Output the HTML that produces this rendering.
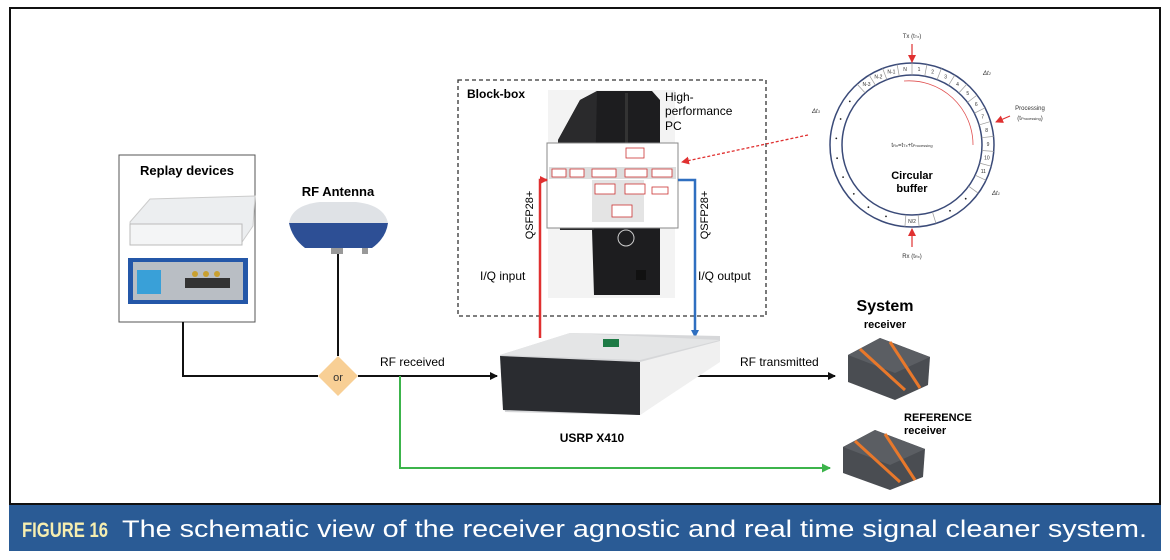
<!DOCTYPE html>
<html><head><meta charset="utf-8"><style>
html,body{margin:0;padding:0;background:#fff;}
svg{display:block;font-family:"Liberation Sans",sans-serif;}
</style></head><body>
<svg width="1170" height="560" viewBox="0 0 1170 560" xmlns="http://www.w3.org/2000/svg">
<defs>
<marker id="ab" markerWidth="8" markerHeight="8" refX="7" refY="4" orient="auto" markerUnits="userSpaceOnUse"><path d="M0,0 L8,4 L0,8z" fill="#111"/></marker>
<marker id="ag" markerWidth="9" markerHeight="9" refX="8" refY="4.5" orient="auto" markerUnits="userSpaceOnUse"><path d="M0,0 L9,4.5 L0,9z" fill="#3cb44b"/></marker>
<marker id="ar" markerWidth="8" markerHeight="8" refX="7" refY="4" orient="auto" markerUnits="userSpaceOnUse"><path d="M0,0 L8,4 L0,8z" fill="#e03030"/></marker>
<marker id="abl" markerWidth="8" markerHeight="8" refX="7" refY="4" orient="auto" markerUnits="userSpaceOnUse"><path d="M0,0 L8,4 L0,8z" fill="#2f6fc0"/></marker>
</defs>
<rect x="0" y="0" width="1170" height="560" fill="#fff"/>
<rect x="10" y="8" width="1150" height="496" fill="#fff" stroke="#111" stroke-width="2"/>
<!-- caption -->
<rect x="9" y="505" width="1152" height="46" fill="#2a5b95"/>
<text x="22" y="537" font-size="21" font-weight="bold" fill="#f6eeb0" font-family="Liberation Sans Narrow, Liberation Sans, sans-serif" textLength="86" lengthAdjust="spacingAndGlyphs">FIGURE 16</text>
<text x="122" y="537" font-size="24" fill="#fff" textLength="1025" lengthAdjust="spacingAndGlyphs">The schematic view of the receiver agnostic and real time signal cleaner system.</text>

<!-- Replay devices -->
<rect x="119" y="155" width="136" height="167" fill="#fff" stroke="#555" stroke-width="1"/>
<text x="187" y="175" font-size="13" font-weight="bold" text-anchor="middle">Replay devices</text>
<path d="M130,222 L150,199 L255,196 L253,226 L240,245 L132,244z" fill="#eceef0" stroke="#ccc"/>
<rect x="130" y="224" width="112" height="21" fill="#f4f5f6" stroke="#bbb"/>
<rect x="128" y="258" width="120" height="46" fill="#2457a8"/>
<rect x="133" y="262" width="110" height="38" fill="#b9bec4"/>
<rect x="137" y="270" width="24" height="24" fill="#39a0d8"/>
<circle cx="195" cy="274" r="3" fill="#c9a030"/><circle cx="206" cy="274" r="3" fill="#c9a030"/><circle cx="217" cy="274" r="3" fill="#c9a030"/>
<rect x="185" y="278" width="45" height="10" fill="#333"/>

<!-- antenna -->
<text x="338" y="196" font-size="13" font-weight="bold" text-anchor="middle">RF Antenna</text>
<path d="M289,223 Q292,205 320,202 L356,202 Q384,205 388,223z" fill="#dfe2e6"/>
<path d="M289,223 L388,223 Q386,238 372,248 L305,248 Q292,238 289,223z" fill="#2d4f95"/>
<rect x="331" y="248" width="12" height="6" fill="#999"/>
<rect x="362" y="248" width="6" height="6" fill="#999"/>

<!-- lines -->
<polyline points="183,322 183,376 318,376" fill="none" stroke="#111" stroke-width="2"/>
<line x1="338" y1="254" x2="338" y2="356" stroke="#111" stroke-width="2"/>
<line x1="358" y1="376" x2="497" y2="376" stroke="#111" stroke-width="2" marker-end="url(#ab)"/>
<polygon points="338,356 358,376 338,396 318,376" fill="#f8cf95"/>
<text x="338" y="381" font-size="11" text-anchor="middle" fill="#333">or</text>
<text x="380" y="366" font-size="12">RF received</text>
<polyline points="400,376 400,468 830,468" fill="none" stroke="#3cb44b" stroke-width="2" marker-end="url(#ag)"/>
<line x1="680" y1="376" x2="835" y2="376" stroke="#111" stroke-width="2" marker-end="url(#ab)"/>
<text x="740" y="366" font-size="12">RF transmitted</text>

<!-- dashed box -->
<rect x="458" y="80" width="308" height="236" fill="none" stroke="#333" stroke-width="1.3" stroke-dasharray="4,3"/>
<text x="467" y="98" font-size="12" font-weight="bold">Block-box</text>
<!-- PC tower -->
<rect x="548" y="90" width="127" height="208" fill="#f3f3f3"/>
<path d="M597,91 L652,91 L660,100 L660,295 L594,295 L592,230 L560,230 L558,140 L580,100z" fill="#1d1d1f"/>
<path d="M558,140 L580,100 L597,91 L594,230 L560,230z" fill="#2a2a2c"/>
<rect x="625" y="93" width="3" height="130" fill="#333"/>
<ellipse cx="626" cy="238" rx="8" ry="8" fill="none" stroke="#ccc"/>
<rect x="636" y="270" width="10" height="10" fill="#111"/>
<text x="665" y="101" font-size="12">High-</text>
<text x="665" y="115" font-size="12">performance</text>
<text x="665" y="130" font-size="12">PC</text>
<!-- overlay diagram -->
<rect x="547" y="143" width="131" height="85" fill="#fff" stroke="#888"/>
<rect x="549" y="167" width="127" height="12" fill="#ddd"/>
<rect x="592" y="180" width="52" height="42" fill="#e4e4e4"/>
<g fill="#fff" stroke="#c33" stroke-width="0.8">
<rect x="626" y="148" width="18" height="10"/>
<rect x="552" y="169" width="14" height="8"/><rect x="570" y="169" width="14" height="8"/>
<rect x="592" y="169" width="24" height="8"/><rect x="625" y="169" width="22" height="8"/><rect x="652" y="169" width="20" height="8"/>
<rect x="595" y="184" width="20" height="10"/><rect x="625" y="184" width="20" height="10"/><rect x="652" y="187" width="16" height="7"/>
<rect x="612" y="205" width="20" height="12"/>
</g>
<!-- red/blue -->
<polyline points="540,338 540,180 547,180" fill="none" stroke="#e03030" stroke-width="2.5" marker-end="url(#ar)"/>
<polyline points="678,180 695,180 695,337" fill="none" stroke="#2f6fc0" stroke-width="2.5" marker-end="url(#abl)"/>
<text transform="translate(533,215) rotate(-90)" font-size="11" text-anchor="middle">QSFP28+</text>
<text transform="translate(708,215) rotate(-90)" font-size="11" text-anchor="middle">QSFP28+</text>
<text x="480" y="280" font-size="12">I/Q input</text>
<text x="698" y="280" font-size="12">I/Q output</text>
<line x1="808" y1="135" x2="682" y2="162" stroke="#e03030" stroke-width="1.3" stroke-dasharray="3,2" marker-end="url(#ar)"/>

<!-- USRP -->
<path d="M500,355 L570,333 L720,336 L720,360 L640,415 L505,412z" fill="#d6d7d9"/>
<path d="M500,355 L640,360 L720,340 L570,333z" fill="#e4e5e6"/>
<path d="M500,356 L640,362 L640,415 L503,410z" fill="#2a2c30"/>
<path d="M640,362 L720,341 L720,362 L640,415z" fill="#f0f0f0"/>
<rect x="603" y="339" width="16" height="8" fill="#1d7a45"/>
<text x="592" y="442" font-size="12" font-weight="bold" text-anchor="middle">USRP X410</text>

<!-- receivers -->
<text x="885" y="311" font-size="16" font-weight="bold" text-anchor="middle">System</text>
<text x="885" y="328" font-size="11" font-weight="bold" text-anchor="middle">receiver</text>
<path d="M848,355 L880,338 L930,357 L928,385 L895,400 L848,382z" fill="#4a4d52"/>
<path d="M848,355 L880,338 L930,357 L895,373z" fill="#5b5e63"/>
<line x1="860" y1="349" x2="905" y2="390" stroke="#e8782b" stroke-width="3"/>
<line x1="890" y1="342" x2="920" y2="388" stroke="#e8782b" stroke-width="3"/>
<text x="904" y="421" font-size="11" font-weight="bold">REFERENCE</text>
<text x="904" y="434" font-size="11" font-weight="bold">receiver</text>
<path d="M843,447 L875,430 L925,449 L923,477 L890,490 L843,473z" fill="#4a4d52"/>
<path d="M843,447 L875,430 L925,449 L890,465z" fill="#5b5e63"/>
<line x1="855" y1="441" x2="900" y2="482" stroke="#e8782b" stroke-width="3"/>
<line x1="885" y1="434" x2="915" y2="480" stroke="#e8782b" stroke-width="3"/>

<!-- circular buffer -->
<circle cx="912" cy="145" r="82" fill="none" stroke="#3a4a78" stroke-width="1.5"/>
<circle cx="912" cy="145" r="70" fill="none" stroke="#3a4a78" stroke-width="1.5"/>
<g stroke="#999" stroke-width="0.7">
<line x1="912" y1="75" x2="912" y2="63"/><line x1="924.7" y1="76.2" x2="926.9" y2="64.4"/><line x1="937.1" y1="79.6" x2="941.4" y2="68.4"/><line x1="948.5" y1="85.3" x2="954.8" y2="75.1"/><line x1="958.8" y1="93" x2="966.9" y2="84.1"/><line x1="967.5" y1="102.4" x2="977" y2="95.1"/><line x1="974.4" y1="113.2" x2="985.1" y2="107.8"/><line x1="978.6" y1="125.1" x2="990" y2="121.7"/><line x1="981.7" y1="137.7" x2="993.6" y2="136.4"/><line x1="981.8" y1="150.5" x2="993.8" y2="151.4"/><line x1="979.6" y1="163.1" x2="991.2" y2="166.2"/><line x1="975.2" y1="175.2" x2="986" y2="180.3"/><line x1="968.6" y1="186.2" x2="978.3" y2="193.2"/>
<line x1="899.3" y1="76.2" x2="897.1" y2="64.4"/><line x1="886.9" y1="79.6" x2="882.6" y2="68.4"/><line x1="875.5" y1="85.3" x2="869.2" y2="75.1"/><line x1="865.2" y1="93" x2="857.1" y2="84.1"/>
<line x1="918.1" y1="214.7" x2="919.1" y2="226.7"/><line x1="905.9" y1="214.7" x2="904.9" y2="226.7"/><line x1="932.4" y1="211.9" x2="936" y2="223.4"/>
</g>
<g font-size="5" text-anchor="middle" fill="#333">
<text x="919" y="71">1</text><text x="932.6" y="73.5">2</text><text x="945.6" y="78.5">3</text><text x="957.5" y="86">4</text><text x="967.8" y="95">5</text><text x="976.3" y="106">6</text><text x="982.6" y="118.5">7</text><text x="986.6" y="132">8</text><text x="988" y="146">9</text><text x="986.9" y="159.5">10</text><text x="983.3" y="173">11</text>
<text x="905" y="71">N</text><text x="891.4" y="73.5">N-1</text><text x="878.4" y="78.5">N-2</text><text x="866.5" y="86">N-3</text><text x="912" y="223">N/2</text>
</g>
<g fill="#222">
<circle cx="849.8" cy="101.4" r="0.9"/><circle cx="840.6" cy="119" r="0.9"/><circle cx="836.3" cy="138.4" r="0.9"/><circle cx="837.1" cy="158.2" r="0.9"/><circle cx="843.1" cy="177.1" r="0.9"/><circle cx="853.8" cy="193.9" r="0.9"/><circle cx="868.4" cy="207.2" r="0.9"/><circle cx="886" cy="216.4" r="0.9"/><circle cx="965.7" cy="198.7" r="0.9"/><circle cx="950" cy="210.8" r="0.9"/>
</g>
<path d="M904,81 A64 64 0 0 1 973 145" fill="none" stroke="#e05050" stroke-width="0.8"/>
<text x="912" y="38" font-size="6" text-anchor="middle" fill="#333">Tx (t<tspan font-size="4">Tx</tspan>)</text>
<line x1="912" y1="44" x2="912" y2="62" stroke="#e03030" stroke-width="1.2" marker-end="url(#ar)"/>
<text x="912" y="258" font-size="6" text-anchor="middle" fill="#333">Rx (t<tspan font-size="4">Rx</tspan>)</text>
<line x1="912" y1="247" x2="912" y2="229" stroke="#e03030" stroke-width="1.2" marker-end="url(#ar)"/>
<text x="1030" y="110" font-size="6" text-anchor="middle" fill="#333">Processing</text>
<text x="1030" y="120" font-size="6" text-anchor="middle" fill="#333">(t<tspan font-size="4">Processing</tspan>)</text>
<line x1="1010" y1="116" x2="996" y2="122" stroke="#e03030" stroke-width="1.2" marker-end="url(#ar)"/>
<text x="983" y="75" font-size="6" font-style="italic" fill="#333">Δt<tspan font-size="4">2</tspan></text>
<text x="812" y="113" font-size="6" font-style="italic" fill="#333">Δt<tspan font-size="4">3</tspan></text>
<text x="992" y="195" font-size="6" font-style="italic" fill="#333">Δt<tspan font-size="4">1</tspan></text>
<text x="912" y="147" font-size="6" text-anchor="middle" fill="#333">t<tspan font-size="4">Rx</tspan>=t<tspan font-size="4">Tx</tspan>+t<tspan font-size="4">Processing</tspan></text>
<text x="912" y="179" font-size="11" font-weight="bold" text-anchor="middle">Circular</text>
<text x="912" y="192" font-size="11" font-weight="bold" text-anchor="middle">buffer</text>
</svg>
</body></html>
